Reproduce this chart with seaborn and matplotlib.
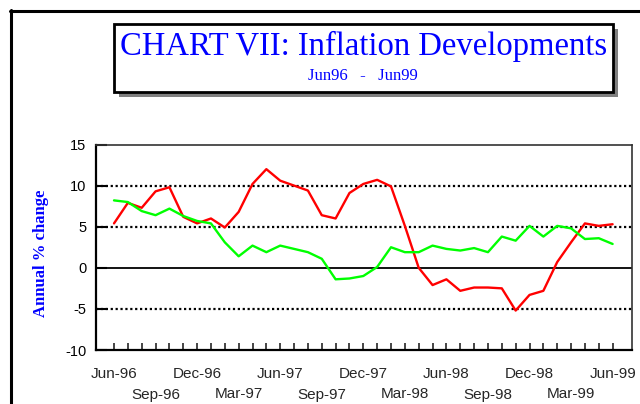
import matplotlib
matplotlib.use("Agg")
import matplotlib.pyplot as plt
from matplotlib.patches import Rectangle
from matplotlib.lines import Line2D
import seaborn as sns
import pandas as pd

months = ["Jun-96", "Jul-96", "Aug-96", "Sep-96", "Oct-96", "Nov-96", "Dec-96",
          "Jan-97", "Feb-97", "Mar-97", "Apr-97", "May-97", "Jun-97",
          "Jul-97", "Aug-97", "Sep-97", "Oct-97", "Nov-97", "Dec-97",
          "Jan-98", "Feb-98", "Mar-98", "Apr-98", "May-98", "Jun-98",
          "Jul-98", "Aug-98", "Sep-98", "Oct-98", "Nov-98", "Dec-98",
          "Jan-99", "Feb-99", "Mar-99", "Apr-99", "May-99", "Jun-99"]
red_series = [5.4, 7.9, 7.3, 9.3, 9.8, 6.2, 5.4, 6.0, 4.9, 6.8, 10.2, 12.0, 10.6,
              10.0, 9.4, 6.4, 6.0, 9.1, 10.2, 10.7, 9.9, 5.1, 0.0, -2.1, -1.4,
              -2.8, -2.4, -2.4, -2.5, -5.2, -3.3, -2.8, 0.7, 3.1, 5.4, 5.1, 5.3]
green_series = [8.2, 8.0, 6.9, 6.4, 7.2, 6.3, 5.7, 5.4, 3.1, 1.4, 2.7, 1.9, 2.7,
                2.3, 1.9, 1.1, -1.4, -1.3, -1.0, 0.1, 2.5, 1.9, 1.9, 2.7, 2.3,
                2.1, 2.4, 1.9, 3.8, 3.3, 5.1, 3.8, 5.1, 4.8, 3.5, 3.6, 2.9]
upper_labels = ["Jun-96", "Dec-96", "Jun-97", "Dec-97", "Jun-98", "Dec-98", "Jun-99"]
lower_labels = ["Sep-96", "Mar-97", "Sep-97", "Mar-98", "Sep-98", "Mar-99"]
y_ticks = [-10, -5, 0, 5, 10, 15]

sns.set_style("white")
plt.rcParams['font.family'] = ['Liberation Sans', 'DejaVu Sans']

W, H = 640, 404
fig = plt.figure(figsize=(W / 100, H / 100), dpi=100)

def fx(px):
    return px / W

def fy(py):
    return 1 - py / H

# outer frame (top and left edges)
fig.add_artist(Line2D([fx(10), fx(645)], [fy(10.5), fy(10.5)], color="black", lw=2.2,
                      transform=fig.transFigure, clip_on=False))
fig.add_artist(Line2D([fx(10.5), fx(10.5)], [fy(10), fy(410)], color="black", lw=2.2,
                      transform=fig.transFigure, clip_on=False))

# title box with shadow
bx0, bx1, by0, by1 = 114, 613, 24, 92
fig.add_artist(Rectangle((fx(bx0 + 5), fy(by1 + 5)), fx(bx1 - bx0), (by1 - by0) / H,
                         facecolor="#808080", edgecolor="none", transform=fig.transFigure))
fig.add_artist(Rectangle((fx(bx0), fy(by1)), fx(bx1 - bx0), (by1 - by0) / H,
                         facecolor="white", edgecolor="black", lw=2,
                         transform=fig.transFigure))
fig.text(fx(363.5), fy(46.5), "CHART VII: Inflation Developments", color="#0000FF",
         family="Liberation Serif", fontsize=23.5, ha="center", va="center")
fig.text(fx(363), fy(76), "Jun96   -   Jun99",
         color="#0000FF", family="Liberation Serif", fontsize=12,
         ha="center", va="center")

ax = fig.add_axes([fx(96), fy(350), fx(632 - 96), (350 - 144.5) / H])

df = pd.DataFrame({
    "month": list(range(len(months))) * 2,
    "value": red_series + green_series,
    "series": ["red"] * len(months) + ["green"] * len(months),
})
sns.lineplot(data=df, x="month", y="value", hue="series",
             palette={"red": "#FF0000", "green": "#00FF00"},
             linewidth=1.7, legend=False, ax=ax, zorder=3)

ax.set_xlim(-1.3, 37.4)
ax.set_ylim(-10, 15)
for v in [5, 10, -5]:
    ax.axhline(v, color="black", lw=1.6, linestyle=(0, (1, 1.2)), zorder=1)
ax.axhline(0, color="black", lw=1.3, zorder=1)

ax.set_yticks(y_ticks)
ax.set_yticklabels([str(v) for v in y_ticks])

# upper row labels on major ticks (every 6 months), lower row on minor ticks
ax.set_xticks([months.index(m) for m in upper_labels])
ax.set_xticklabels(upper_labels)
minor_pos = list(range(len(months)))
ax.set_xticks(minor_pos, minor=True)
ax.set_xticklabels([m if m in lower_labels else "" for m in months], minor=True)

ax.tick_params(axis="y", direction="in", length=8, width=1.5, pad=7,
               labelsize=10.5, colors="black", left=True)
ax.tick_params(axis="x", which="both", direction="in", length=5, width=1.2,
               labelsize=11, bottom=True)
ax.tick_params(axis="x", which="major", pad=12)
ax.tick_params(axis="x", which="minor", pad=27)

for s in ["left", "bottom"]:
    ax.spines[s].set_color("black")
    ax.spines[s].set_linewidth(1.6)
for s in ["top", "right"]:
    ax.spines[s].set_color("#333333")
    ax.spines[s].set_linewidth(1.2)

ax.set_xlabel("")
ax.set_ylabel("")
fig.text(fx(41), fy(253.5), "Annual % change", color="#0000FF", family="Liberation Serif",
         fontweight="bold", fontsize=12, rotation=90, ha="center", va="center")

fig.savefig("out.png", dpi=100)
